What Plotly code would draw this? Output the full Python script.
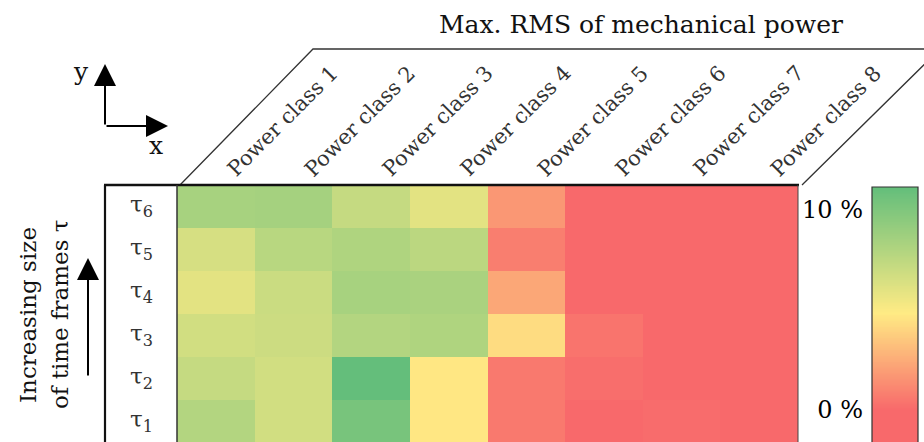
import numpy as np
import plotly.graph_objects as go

W, H = 924, 442

classes = ["Power class 1", "Power class 2", "Power class 3", "Power class 4",
           "Power class 5", "Power class 6", "Power class 7", "Power class 8"]
tau_keys = ["τ1", "τ2", "τ3", "τ4", "τ5", "τ6"]
tau_labels = ["τ<sub>1</sub>", "τ<sub>2</sub>", "τ<sub>3</sub>",
              "τ<sub>4</sub>", "τ<sub>5</sub>", "τ<sub>6</sub>"]

tau1 = [7.9, 6.7, 10.3, 4.7, 0.6, 0.0, 0.1, 0.0]
tau2 = [7.2, 6.7, 11.1, 4.7, 0.6, 0.2, 0.0, 0.0]
tau3 = [6.7, 6.9, 7.9, 8.1, 4.3, 0.4, 0.0, 0.0]
tau4 = [6.0, 7.0, 8.4, 8.3, 2.3, 0.0, 0.0, 0.0]
tau5 = [6.5, 7.7, 8.1, 7.6, 0.8, 0.0, 0.0, 0.0]
tau6 = [8.4, 8.5, 7.2, 6.0, 1.7, 0.0, 0.0, 0.0]

scale_ticks = [0, 10]
scale_text = ["0 %", "10 %"]

ZMIN, ZMAX = -1.6, 11.15
RED, YEL, GRN = "#f8696b", "#ffeb84", "#63be7b"
f0 = (0 - ZMIN) / (ZMAX - ZMIN)
fy = (4.85 - ZMIN) / (ZMAX - ZMIN)
cscale = [[0, RED], [f0, RED], [fy, YEL], [1, GRN]]

def px(x):
    return x / W

def py(y):
    return 1 - y / H

FONT = "DejaVu Serif"
TXT = "#111"

fig = go.Figure()
fig.add_trace(go.Heatmap(
    z=[tau1, tau2, tau3, tau4, tau5, tau6], x=classes, y=tau_keys,
    colorscale=cscale, zmin=ZMIN, zmax=ZMAX, showscale=False,
    xaxis="x", yaxis="y", hoverinfo="skip"))

# gradient legend drawn as its own heatmap column
grad = np.linspace(ZMIN, ZMAX, 300)
fig.add_trace(go.Heatmap(
    z=[[g] for g in grad], x=[0], y=grad,
    colorscale=cscale, zmin=ZMIN, zmax=ZMAX, showscale=False,
    xaxis="x2", yaxis="y2", hoverinfo="skip"))

fig.update_layout(
    width=W, height=H, margin=dict(l=0, r=0, t=0, b=0),
    paper_bgcolor="white", plot_bgcolor="white", showlegend=False,
    xaxis=dict(domain=[px(177), px(798)], range=[-0.5, 7.5], showticklabels=False,
               showgrid=False, zeroline=False, ticks=""),
    yaxis=dict(domain=[0, py(185)], range=[-0.48, 5.5], showticklabels=False,
               showgrid=False, zeroline=False, ticks=""),
    xaxis2=dict(domain=[px(872), px(918)], anchor="y2", range=[-0.5, 0.5],
                showticklabels=False, showgrid=False, zeroline=False, ticks=""),
    yaxis2=dict(domain=[0, py(187)], anchor="x2", range=[-1.6, ZMAX], side="left",
                tickvals=scale_ticks, ticktext=scale_text, ticks="",
                ticklabelstandoff=8, showgrid=False, zeroline=False,
                tickfont=dict(family=FONT, size=24, color="#000")),
)

shapes = []
# parallelogram header
shapes.append(dict(type="path", xref="paper", yref="paper",
                   path=f"M {px(180)} {py(185)} L {px(313)} {py(49)} L {px(940)} {py(49)} L {px(802)} {py(185)}",
                   line=dict(color="#333", width=1.3)))
# frame
shapes.append(dict(type="line", xref="paper", yref="paper", x0=px(104), x1=px(799),
                   y0=py(185), y1=py(185), line=dict(color="#111", width=2.5)))
shapes.append(dict(type="line", xref="paper", yref="paper", x0=px(105), x1=px(105),
                   y0=py(185), y1=0, line=dict(color="#111", width=2.2)))
shapes.append(dict(type="line", xref="paper", yref="paper", x0=px(177), x1=px(177),
                   y0=py(185), y1=0, line=dict(color="#333", width=1.5)))
shapes.append(dict(type="line", xref="paper", yref="paper", x0=px(798), x1=px(798),
                   y0=py(185), y1=0, line=dict(color="#444", width=1)))
# legend outline
shapes.append(dict(type="rect", xref="x2 domain", yref="y2 domain", x0=0, x1=1, y0=-0.01, y1=1,
                   line=dict(color="#333", width=1.2)))
fig.update_layout(shapes=shapes)

C = dict(xanchor="center", yanchor="middle", showarrow=False)
ann = []
ann.append(dict(text="Max. RMS of mechanical power", xref="paper", yref="paper",
                x=px(641), y=py(24), font=dict(family=FONT, size=25, color=TXT), **C))
for i, c in enumerate(classes):
    ann.append(dict(text=c, xref="x", yref="paper", x=i, xshift=67, y=py(121),
                    textangle=-45, font=dict(family=FONT, size=21, color="#333"), **C))
for i, t in enumerate(tau_labels):
    ann.append(dict(text=t, xref="paper", yref="y", x=px(141), y=i,
                    font=dict(family=FONT, size=23, color="#333"), **C))
ann.append(dict(text="Increasing size", xref="paper", yref="paper", x=px(28), y=py(315),
                textangle=-90, font=dict(family=FONT, size=23, color=TXT), **C))
ann.append(dict(text="of time frames τ", xref="paper", yref="paper", x=px(60), y=py(314),
                textangle=-90, font=dict(family=FONT, size=23, color=TXT), **C))
# arrows
ARW = dict(text="", xref="paper", yref="paper", showarrow=True, arrowhead=2,
           arrowsize=2.2, arrowwidth=2, arrowcolor="#000")
ann.append(dict(x=px(88), y=py(258), ax=0, ay=119, **ARW))
ann.append(dict(x=px(105), y=py(64), ax=0, ay=62, **ARW))
ann.append(dict(x=px(168), y=py(126), ax=-63, ay=0, **ARW))
ann.append(dict(text="y", xref="paper", yref="paper", x=px(81), y=py(71),
                font=dict(family=FONT, size=25, color=TXT), **C))
ann.append(dict(text="x", xref="paper", yref="paper", x=px(156), y=py(146),
                font=dict(family=FONT, size=25, color=TXT), **C))
fig.update_layout(annotations=ann)

fig.write_html("out.html")
